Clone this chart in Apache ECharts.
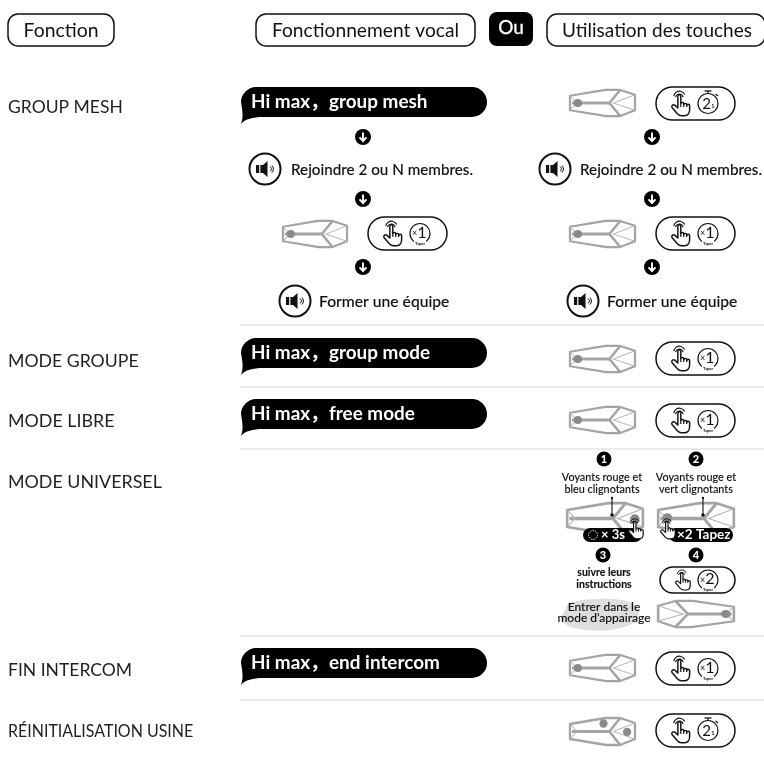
<!DOCTYPE html>
<html><head><meta charset="utf-8">
<style>html,body{margin:0;padding:0;background:#fff}#c{width:764px;height:759px}</style>
<script src="https://cdn.jsdelivr.net/npm/echarts@6/dist/echarts.min.js"></script>
</head><body><div id="c"></div>
<script>
const headers = ['Fonction','Fonctionnement vocal','Ou','Utilisation des touches'];
const functionLabels = ['GROUP MESH','MODE GROUPE','MODE LIBRE','MODE UNIVERSEL','FIN INTERCOM','RÉINITIALISATION USINE'];
const voiceCommands = ['Hi max，group mesh','Hi max，group mode','Hi max，free mode','Hi max，end intercom'];
const prompts = ['Rejoindre 2 ou N membres.','Former une équipe'];
const universalLines = [['Voyants rouge et','bleu clignotants'],['Voyants rouge et','vert clignotants'],['suivre leurs','instructions'],['Entrer dans le','mode d’appairage']];
const stepNumbers = ['1','2','3','4'];
const holdTag = '× 3s', tapTag = '×2 Tapez', tapWord = 'Tapez';

const FONT = 'Lato, "Noto Sans", "Noto Sans CJK SC", sans-serif';
const g = [];
const reg = {};
function pth(d,x,y,style,z){
  if(!reg[d]){ const n='p'+Object.keys(reg).length; reg[d]=n; echarts.graphic.registerShape(n,echarts.graphic.extendPath(d,{})); }
  return {type:reg[d],x:x,y:y,z:z||3,shape:{},style:style};
}
function txt(s,x,y,size,o){o=o||{};
  const st={text:s,fill:o.fill||'#111',font:(o.w||'400')+' '+size+'px '+FONT,textAlign:o.a||'left',textVerticalAlign:'middle'};
  if(o.th){st.stroke=o.fill||'#111';st.lineWidth=o.th;}
  return {type:'text',x:x,y:y,scaleX:o.sx||1,z:o.z||5,style:st};}
function rr(x,y,w,h,r,o){o=o||{};return {type:'rect',z:o.z||3,shape:{x:x,y:y,width:w,height:h,r:r},style:{fill:o.fill||'#fff',stroke:o.stroke===undefined?'#111':o.stroke,lineWidth:o.lw||1.5}};}
function dev(x,y,w,h,mirror,dots){
  const kids=[];
  const S={stroke:'#a4a4a4',fill:null,lineWidth:2.3,lineJoin:'round'};
  const T={stroke:'#b4b4b4',fill:null,lineWidth:1};
  kids.push({type:'polygon',shape:{points:[[1,7],[37,1],[52,1],[67,6],[67,22],[52,28],[38,28],[1,22]]},style:Object.assign({},S,{fill:'#fff'})});
  kids.push({type:'polyline',shape:{points:[[3,14.5],[41,14.5]]},style:Object.assign({},S,{lineWidth:3})});
  kids.push({type:'polyline',shape:{points:[[52,1],[41,14.5],[52,28]]},style:Object.assign({},S,{lineWidth:2.6})});
  kids.push({type:'polyline',shape:{points:[[67,6],[45,14.5],[67,22]]},style:T});
  kids.push({type:'polyline',shape:{points:[[1,7],[8,14.5],[1,22]]},style:T});
  (dots||[[9,14.5]]).forEach(d=>kids.push({type:'circle',shape:{cx:d[0],cy:d[1],r:4.2},style:{fill:'#8a8a8a'}}));
  const sx=w/68, sy=h/29;
  return {type:'group',x:mirror?x+w:x,y:y,scaleX:mirror?-sx:sx,scaleY:sy,z:2,children:kids};
}
function hand(x,y,s,z){
  return {type:'group',x:x,y:y,scaleX:s,scaleY:s,children:[
    pth('M7 6C7 4 10 4 10 6L10 13.5C10 12 13 12 13 13.5L13 14.5C13 13 16 13 16 14.5L16 15.5C16 14 19 14 19 15.5L19 20C19 23.5 17 26 14 26L10.5 26C8.5 26 7.5 25 6.5 24L1 17.5C0 15.5 2.5 14 4 15.2L7 18Z',0,0,{fill:'#fff',stroke:'#111',lineWidth:1.5,lineJoin:'round'},z||6),
    pth('M10 13.5L10 17M13 14L13 17M16 15L16 17',0,0,{fill:null,stroke:'#111',lineWidth:1.2},z||6),
    pth('M4.6 7A4 4 0 0 1 12.4 7M2.8 6A5.9 5.9 0 0 1 14 4.4',0,0,{fill:null,stroke:'#111',lineWidth:1.2},z||6)
  ]};
}
function pill(x,y,kind,w,h,hs){
  w=w||79;h=h||33;hs=hs||0.98;
  const cy=y+h/2;
  g.push(rr(x,y,w,h,h/2));
  g.push(hand(x+15,cy-hs*13.5,hs));
  const ix=x+w-27;
  g.push({type:'circle',z:5,shape:{cx:ix,cy:cy,r:10},style:{fill:'#fff',stroke:'#111',lineWidth:1.2}});
  if(kind==='t'){
    g.push({type:'line',z:5,shape:{x1:ix-3.5,y1:cy-12.5,x2:ix+3.5,y2:cy-12.5},style:{stroke:'#111',lineWidth:1.3}});
    g.push({type:'line',z:5,shape:{x1:ix,y1:cy-12.5,x2:ix,y2:cy-10},style:{stroke:'#111',lineWidth:1.2}});
    g.push({type:'line',z:5,shape:{x1:ix+7.5,y1:cy-9.5,x2:ix+10,y2:cy-7.5},style:{stroke:'#111',lineWidth:1.3}});
    g.push(txt('2',ix-1.5,cy+0.5,15,{a:'center'}));
    g.push(txt('s',ix+5,cy+2,7,{a:'center'}));
  } else {
    g.push(txt('×',ix-5.5,cy,9,{a:'center'}));
    g.push(txt(kind,ix+2,cy-1,16,{a:'center'}));
    g.push({type:'rect',z:5,shape:{x:ix-6,y:cy+7,width:12,height:5},style:{fill:'#fff'}});
    g.push(txt(tapWord,ix,cy+10,4,{a:'center',w:'700',z:6}));
  }
}
function arrow(x,y){
  g.push({type:'circle',z:3,shape:{cx:x,cy:y,r:8},style:{fill:'#000'}});
  g.push(pth('M5 1L5 9.5M1.5 5.8L5 9.5L8.5 5.8',x-5,y-5.5,{fill:null,stroke:'#fff',lineWidth:1.9},4));
}
function speaker(x,y,r){
  r=r||15.5;
  g.push({type:'circle',z:3,shape:{cx:x,cy:y,r:r},style:{fill:'#fff',stroke:'#111',lineWidth:2}});
  g.push(pth('M0 4L3.2 4L3.2 12L0 12ZM4.4 4L7 4L11.5 0L11.5 16L7 12L4.4 12Z',x-9,y-8,{fill:'#111'},4));
  g.push(pth('M14 5.5A3 3 0 0 1 14 10.5M16 4.5A5 5 0 0 1 16 11.5',x-9,y-8,{fill:null,stroke:'#111',lineWidth:1},4));
}
function bubble(x,y,s){
  g.push(pth('M15 0L231 0A15 15 0 0 1 231 30L22 30C12 30 4 32 0 37C3 29 1 22 0 15C0 7 7 0 15 0Z',x,y,{fill:'#000'},3));
  g.push(txt(s,x+10,y+15,18,{fill:'#fff',w:'700',sx:1.05}));
}
function badge(x,y,n){
  g.push({type:'circle',z:3,shape:{cx:x,cy:y,r:7.5},style:{fill:'#000'}});
  g.push(txt(n,x,y,11,{fill:'#fff',w:'900',a:'center'}));
}

// headers
g.push(rr(8,14,106,32,10)); g.push(txt(headers[0],61,31,20,{a:'center',sx:.97}));
g.push(rr(256,14,219,32,10)); g.push(txt(headers[1],365.5,31,20,{a:'center',sx:.96}));
g.push(rr(489,12,44,34,8,{fill:'#000',stroke:null})); g.push(txt(headers[2],511,28,19,{a:'center',fill:'#fff',th:.3}));
g.push(rr(547,14,218,32,10)); g.push(txt(headers[3],657,31,20,{a:'center',sx:.95}));

// function labels
const labelY=[108,362,422,483,671,732];
const labelFit=[1.03,1.04,1.05,1.05,1.03,.94];
functionLabels.forEach((s,i)=>g.push(txt(s,8,labelY[i],17,{fill:'#222',sx:labelFit[i]})));

// separators
[325,387,449,636,700].forEach(y=>g.push({type:'line',z:1,shape:{x1:240,y1:y,x2:764,y2:y},style:{stroke:'#dcdcdc',lineWidth:1.2}}));

// bubbles
[87,338,399,648].forEach((y,i)=>bubble(241,y,voiceCommands[i]));

// group mesh flows
[137,199,267].forEach(y=>{arrow(363,y);arrow(652,y);});
const P={w:'500',th:.1};
speaker(265,169); g.push(txt(prompts[0],291,170,15,Object.assign({sx:1.015},P)));
speaker(555,169); g.push(txt(prompts[0],580,170,15,Object.assign({sx:1.015},P)));
speaker(295,301); g.push(txt(prompts[1],319,302,15,Object.assign({sx:1.045},P)));
speaker(583,301); g.push(txt(prompts[1],607,302,15,Object.assign({sx:1.045},P)));
g.push(dev(282,220,66,28)); pill(368,217,'1');
g.push(dev(569,89,67,28)); pill(656,87,'t');
g.push(dev(569,220,67,28)); pill(656,217,'1');

// single rows
g.push(dev(569,345,67,28)); pill(656,342,'1');
g.push(dev(569,406,67,28)); pill(656,404,'1');
g.push(dev(569,654,67,28)); pill(656,652,'1');
g.push(dev(569,717,67,29,false,[[35,6.5],[59,15]])); pill(656,714,'t');

// universal
badge(604,459,stepNumbers[0]); badge(696,459,stepNumbers[1]);
const U={a:'center',w:'500',th:.1,sx:.94};
universalLines[0].forEach((s,i)=>g.push(txt(s,602,477+i*12,11.5,U)));
universalLines[1].forEach((s,i)=>g.push(txt(s,696,477+i*12,11.5,U)));
g.push(dev(566,502,78,33,false,[[60,15]])); g.push(dev(657,502,78,33,false,[[9,14]]));
[612,703].forEach(x=>{
  g.push({type:'line',z:4,shape:{x1:x,y1:498,x2:x,y2:515},style:{stroke:'#111',lineWidth:1.1}});
  g.push({type:'circle',z:4,shape:{cx:x,cy:498,r:1.2},style:{fill:'#111'}});
  g.push({type:'circle',z:4,shape:{cx:x,cy:515,r:1.8},style:{fill:'#111'}});
});
g.push(rr(583,528,59,14,7,{fill:'#000',stroke:null,z:5}));
g.push({type:'circle',z:6,shape:{cx:593,cy:535,r:4.5},style:{fill:'#000',stroke:'#fff',lineWidth:0.9,lineDash:[1.5,1]}});
g.push(txt(holdTag,601,535,13,{fill:'#fff',w:'700',z:6}));
g.push(hand(628,518,0.8,7));
g.push(rr(669,528,64,14,7,{fill:'#000',stroke:null,z:5}));
g.push(txt(tapTag,677,535,13.5,{fill:'#fff',w:'700',z:6}));
g.push(hand(660,518,0.8,7));
badge(603,555,stepNumbers[2]); badge(696,555,stepNumbers[3]);
universalLines[2].forEach((s,i)=>g.push(txt(s,604,573+i*12,10.5,{a:'center',w:'700',th:.15})));
pill(660,567,'2',75,26,0.8);
g.push(pth('M6 12C4 4 20 1 40 1C58 0 76 3 79 13C81 22 72 28 60 30C46 34 26 33 14 30C4 28 -3 20 6 12Z',560,598,{fill:'#dedede'},2));
universalLines[3].forEach((s,i)=>g.push(txt(s,604,607+i*11.5,12,{a:'center',w:'500',z:4,th:.1})));
g.push(dev(657,600,78,28,true,[[8,14.5]]));

const chart=echarts.init(document.getElementById('c'),null,{renderer:'canvas',width:764,height:759});
chart.setOption({animation:false,backgroundColor:'#fff',graphic:{elements:g}});
</script></body></html>
